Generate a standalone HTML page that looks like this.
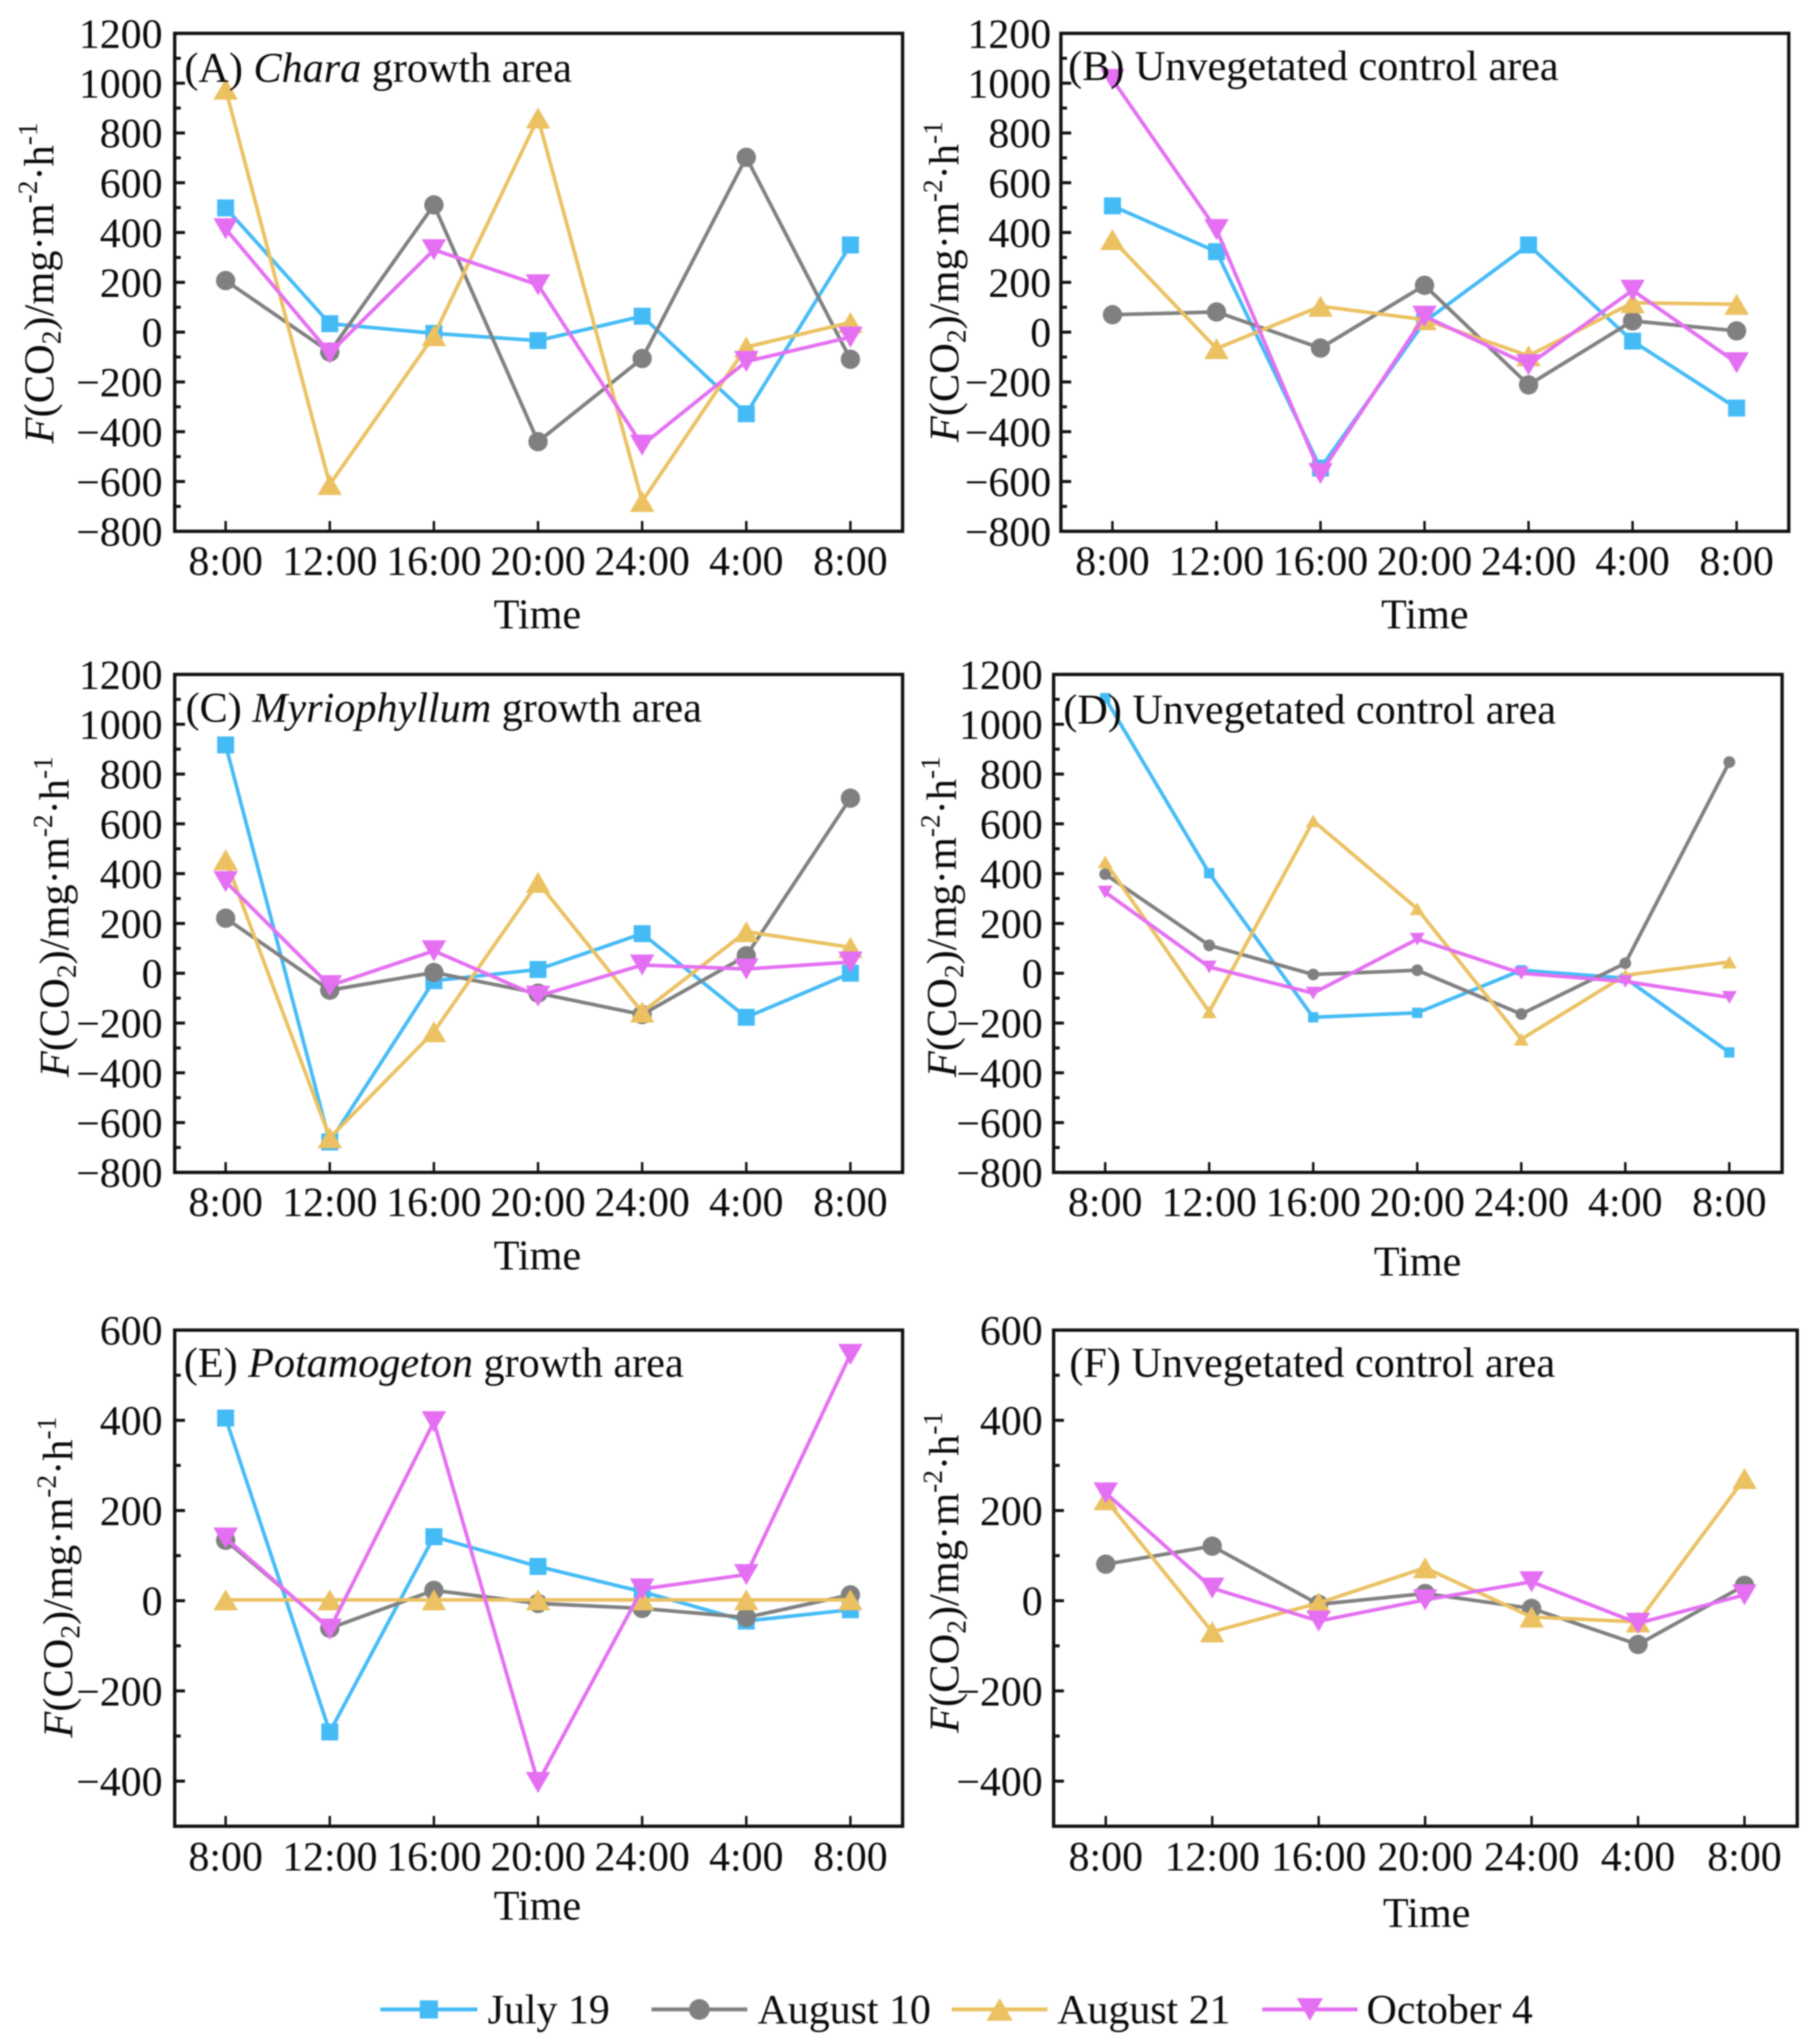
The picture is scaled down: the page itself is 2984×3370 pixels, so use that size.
<!DOCTYPE html>
<html lang="en">
<head>
<meta charset="utf-8">
<title>CO2 flux panels</title>
<style>
html,body{margin:0;padding:0;background:#fff;width:2984px;height:3370px;overflow:hidden}
svg{display:block;filter:blur(1px)}
text{font-family:"Liberation Serif",serif;fill:#0a0a0a}
</style>
</head>
<body>
<svg id="chart" xmlns="http://www.w3.org/2000/svg" width="2984" height="3370" viewBox="0 0 2984 3370"></svg>
<script>
const categories = ["8:00","12:00","16:00","20:00","24:00","4:00","8:00"];
const seriesNames = ["July 19","August 10","August 21","October 4"];
const ticksWide = [1200,1000,800,600,400,200,0,-200,-400,-600,-800];
const ticksNarrow = [600,400,200,0,-200,-400];

const panelA_july = [499,34,-5,-34,64,-328,350];
const panelA_aug10 = [207,-80,511,-440,-106,702,-109];
const panelA_aug21 = [976,-612,-14,860,-680,-60,39];
const panelA_oct = [415,-84,331,190,-454,-118,-20];

const panelB_july = [507,323,-546,42,350,-36,-305];
const panelB_aug10 = [70,81,-64,188,-212,45,5];
const panelB_aug21 = [372,-66,104,50,-95,118,112];
const panelB_oct = [1015,412,-568,64,-131,168,-123];

const panelC_july = [917,-678,-30,15,159,-177,0];
const panelC_aug10 = [221,-68,3,-80,-166,70,703];
const panelC_aug21 = [456,-661,-235,365,-156,167,104];
const panelC_oct = [368,-50,90,-92,33,17,45];

const panelD_july = [1105,402,-177,-159,12,-20,-318];
const panelD_aug10 = [398,112,-5,12,-164,40,848];
const panelD_aug21 = [447,-155,612,259,-265,-8,45];
const panelD_oct = [326,25,-80,137,0,-33,-97];

const panelE_july = [405,-291,142,76,20,-45,-20];
const panelE_aug10 = [134,-61,23,-6,-17,-37,13];
const panelE_aug21 = [2,2,2,2,2,2,2];
const panelE_oct = [139,-63,397,-403,26,58,546];

const panelF_july = [null,null,null,null,null,null,null];
const panelF_aug10 = [81,121,-8,16,-17,-97,34];
const panelF_aug21 = [224,-69,-5,73,-36,-47,271];
const panelF_oct = [239,28,-45,2,42,-50,13];

const colors = ["#45BBF6","#808080","#EBC162","#E46FF2"];
const markers = ["square","circle","up","down"];

const panels = [
 {id:"a",left:288,right:1488,top:55,bottom:876,x0:372,xN:1402,max:1200,min:-800,ticks:ticksWide,
  series:[panelA_july,panelA_aug10,panelA_aug21,panelA_oct],ms:28,lw:6,
  pre:"(A) ",ital:"Chara",post:" growth area",tx:304,ty:135,
  rx:268,yx:88,yy:731,xl:948,tc:886,tb:1036},
 {id:"b",left:1749,right:2949,top:55,bottom:876,x0:1834,xN:2863,max:1200,min:-800,ticks:ticksWide,
  series:[panelB_july,panelB_aug10,panelB_aug21,panelB_oct],ms:28,lw:6,
  pre:"(B) ",ital:"",post:"Unvegetated control area",tx:1761,ty:132,
  rx:1733,yx:1580,yy:729,xl:948,tc:2349,tb:1036},
 {id:"c",left:288,right:1488,top:1112,bottom:1933,x0:372,xN:1402,max:1200,min:-800,ticks:ticksWide,
  series:[panelC_july,panelC_aug10,panelC_aug21,panelC_oct],ms:28,lw:6,
  pre:"(C) ",ital:"Myriophyllum",post:" growth area",tx:306,ty:1190,
  rx:268,yx:113,yy:1776,xl:2005,tc:886,tb:2093},
 {id:"d",left:1737,right:2938,top:1112,bottom:1933,x0:1822,xN:2851,max:1200,min:-800,ticks:ticksWide,
  series:[panelD_july,panelD_aug10,panelD_aug21,panelD_oct],ms:17,lw:6,
  pre:"(D) ",ital:"",post:"Unvegetated control area",tx:1753,ty:1193,
  rx:1719,yx:1576,yy:1776,xl:2005,tc:2337,tb:2103},
 {id:"e",left:288,right:1488,top:2193,bottom:3011,x0:372,xN:1402,max:600,min:-500,ticks:ticksNarrow,
  series:[panelE_july,panelE_aug10,panelE_aug21,panelE_oct],ms:28,lw:6,
  pre:"(E) ",ital:"Potamogeton",post:" growth area",tx:303,ty:2270,
  rx:268,yx:119,yy:2865,xl:3084,tc:886,tb:3165},
 {id:"f",left:1737,right:2963,top:2193,bottom:3011,x0:1823,xN:2876,max:600,min:-500,ticks:ticksNarrow,
  series:[panelF_july,panelF_aug10,panelF_aug21,panelF_oct],ms:28,lw:6,
  pre:"(F) ",ital:"",post:"Unvegetated control area",tx:1763,ty:2270,
  rx:1719,yx:1580,yy:2857,xl:3084,tc:2352,tb:3177}
];

const NS = "http://www.w3.org/2000/svg";
const svg = document.getElementById("chart");

function make(tag, attrs, parent){
  const n = document.createElementNS(NS, tag);
  for (const k in attrs) n.setAttribute(k, attrs[k]);
  (parent || svg).appendChild(n);
  return n;
}
function markerEl(kind, cx, cy, s, color, parent){
  if (kind === "square") return make("rect",{x:cx-s/2,y:cy-s/2,width:s,height:s,fill:color},parent);
  if (kind === "circle") return make("circle",{cx:cx,cy:cy,r:s*0.57,fill:color},parent);
  const w = s*0.72, h = s*0.62;
  if (kind === "up") return make("polygon",{points:(cx-w)+","+(cy+h)+" "+(cx+w)+","+(cy+h)+" "+cx+","+(cy-h),fill:color},parent);
  return make("polygon",{points:(cx-w)+","+(cy-h)+" "+(cx+w)+","+(cy-h)+" "+cx+","+(cy+h),fill:color},parent);
}
function tspan(parent, txt, attrs){
  const t = make("tspan", attrs || {}, parent);
  t.textContent = txt;
  return t;
}

panels.forEach(function(p){
  const g = make("g",{});
  
  

  const xScale = function(i){ return p.x0 + (p.xN - p.x0) * i / (categories.length - 1); };
  const yScale = function(v){ return p.bottom - (v - p.min) / (p.max - p.min) * (p.bottom - p.top); };

  // y ticks (inward) and labels
  p.ticks.forEach(function(v){
    const tick = make("line",{x1:p.left,x2:p.left+17,y1:yScale(v),y2:yScale(v),stroke:"#111","stroke-width":5},g);
    
    
    const lab = make("text",{x:p.rx,y:yScale(v)+24,"text-anchor":"end","font-size":69},g);
    lab.textContent = (v < 0 ? "\u2212" + (-v) : String(v));
    
    
    const mv = v - (p.ticks[0] - p.ticks[1]) / 2;
    if (mv > p.min) {
      const minor = make("line",{x1:p.left,x2:p.left+10,y1:yScale(mv),y2:yScale(mv),stroke:"#111","stroke-width":5},g);
      
      
    }
  });

  // x ticks and labels
  categories.forEach(function(c, i){
    const tick = make("line",{x1:xScale(i),x2:xScale(i),y1:p.bottom-17,y2:p.bottom,stroke:"#111","stroke-width":4},g);
    
    
    const lab = make("text",{x:xScale(i),y:p.xl,"text-anchor":"middle","font-size":69},g);
    lab.textContent = c;
    
    
  });

  // series
  p.series.forEach(function(vals, s){
    const sg = make("g",{},g);
    
    
    const pts = [];
    vals.forEach(function(v, i){ if (v !== null) pts.push(xScale(i) + "," + yScale(v)); });
    if (pts.length) {
      const line = make("polyline",{points:pts.join(" "),fill:"none",stroke:colors[s],"stroke-width":p.lw,"stroke-linejoin":"round"},sg);
      
      
    }
    vals.forEach(function(v, i){
      if (v === null) return;
      const m = markerEl(markers[s], xScale(i), yScale(v), p.ms, colors[s], sg);
      
      
    });
  });

  // frame
  const frame = make("rect",{x:p.left,y:p.top,width:p.right-p.left,height:p.bottom-p.top,fill:"none",stroke:"#111","stroke-width":5.5},g);
  
  

  // panel title
  const title = make("text",{x:p.tx,y:p.ty,"font-size":69.5},g);
  
  
  tspan(title, p.pre, {"xml:space":"preserve"});
  if (p.ital) tspan(title, p.ital, {"font-style":"italic"});
  tspan(title, p.post, {"xml:space":"preserve"});
  title.setAttribute("style","white-space:pre");

  // y axis title
  const yt = make("text",{x:p.yx,y:p.yy,"font-size":70,transform:"rotate(-90 "+p.yx+" "+p.yy+")"},g);
  
  
  tspan(yt, "F", {"font-style":"italic"});
  tspan(yt, "(CO");
  tspan(yt, "2", {"font-size":45,dy:12});
  tspan(yt, ")/mg\u00B7m", {dy:-12});
  tspan(yt, "-2", {"font-size":45,dy:-27});
  tspan(yt, "\u00B7h", {dy:27});
  tspan(yt, "-1", {"font-size":45,dy:-27});

  // x axis title
  const xt = make("text",{x:p.tc,y:p.tb,"text-anchor":"middle","font-size":69.5},g);
  xt.textContent = "Time";
  
  
});

// legend
const legendLine0 = [627,1074,1569,2081];
const legendLine1 = [787,1232,1727,2238];
const legendText = [804,1249,1743,2253];
const legend = make("g",{});


seriesNames.forEach(function(name, i){
  const e = make("g",{},legend);
  
  
  make("line",{x1:legendLine0[i],x2:legendLine1[i],y1:3313,y2:3313,stroke:colors[i],"stroke-width":6.5},e);
  markerEl(markers[i],(legendLine0[i]+legendLine1[i])/2,3313,30,colors[i],e);
  const t = make("text",{x:legendText[i],y:3336,"font-size":69},e);
  t.textContent = name;
});
</script>
</body>
</html>
